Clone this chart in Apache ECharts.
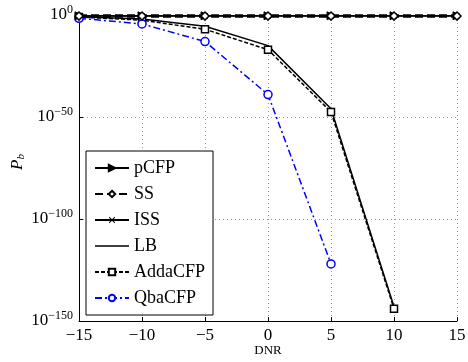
<!DOCTYPE html>
<html>
<head>
<meta charset="utf-8">
<script src="https://cdn.jsdelivr.net/npm/echarts@6/dist/echarts.min.js"></script>
<style>
  html, body { margin: 0; padding: 0; background: #fff; }
  #chart { width: 468px; height: 362px; }
</style>
</head>
<body>
<div id="chart"></div>
<script>
const dnr = [-15, -10, -5, 0, 5, 10, 15];
const pcfp = [0.4, 0.4, 0.4, 0.4, 0.4, 0.4, 0.4];
const ss = [0.3, 0.3, 0.3, 0.3, 0.3, 0.3, 0.3];
const iss = [0.35, 0.35, 0.35, 0.35, 0.35, 0.35, 0.35];
const lb = [1.5e-1, 1e-2, 3e-6, 1e-15, 1e-46, 1e-143];
const addacfp = [1e-1, 3e-3, 1e-7, 1e-17, 3e-48, 1e-144];
const qbacfp = [2.5e-2, 4e-5, 1e-13, 1e-39, 1e-122];
const yTickValues = [1e-150, 1e-100, 1e-50, 1];

const serif = "Liberation Serif";
const pairs = (ys) => ys.map((y, i) => [dnr[i], y]);
const crossPath = "path://M0,1L1,0L5,4L9,0L10,1L6,5L10,9L9,10L5,6L1,10L0,9L4,5Z";

const chart = echarts.init(document.getElementById("chart"));
chart.setOption({
  animation: false,
  backgroundColor: "#fff",
  grid: { left: 79, right: 11, top: 15, bottom: 41, outerBoundsMode: "none", containLabel: false },
  legend: {
    orient: "vertical",
    left: 86,
    top: 151,
    itemGap: 8,
    itemWidth: 34,
    itemHeight: 8,
    padding: [8, 8, 8, 8],
    backgroundColor: "#fff",
    borderColor: "#000",
    borderWidth: 1,
    textStyle: { fontFamily: serif, fontSize: 18, color: "#000" },
    data: ["pCFP", "SS", "ISS", { name: "LB", icon: "path://M0,0H40V2H0Z" }, "AddaCFP", "QbaCFP"],
  },
  xAxis: {
    type: "value",
    min: -15,
    max: 15,
    interval: 5,
    name: "DNR",
    nameLocation: "middle",
    nameGap: 23,
    nameMoveOverlap: false,
    nameTextStyle: { fontFamily: serif, fontSize: 13, color: "#000" },
    axisLine: { onZero: false, lineStyle: { color: "#000", width: 1 } },
    axisTick: { inside: true, length: 4, lineStyle: { color: "#000" } },
    axisLabel: {
      fontFamily: serif,
      fontSize: 17,
      color: "#000",
      margin: 6,
      formatter: (v) => (v < 0 ? "\u2212" + Math.abs(v) : String(v)),
    },
    splitLine: { show: true, lineStyle: { color: "#999", type: [1, 3], width: 1 } },
  },
  yAxis: {
    type: "log",
    logBase: 10,
    min: 1e-150,
    max: 1,
    interval: 50,
    name: "{i|P}{s|b}",
    nameLocation: "middle",
    nameGap: 52,
    nameRotate: 90,
    nameMoveOverlap: false,
    nameTextStyle: {
      fontFamily: serif,
      color: "#000",
      padding: [0, 0, 0, 12],
      rich: {
        i: { fontFamily: serif, fontStyle: "italic", fontSize: 17, color: "#000" },
        s: { fontFamily: serif, fontStyle: "italic", fontSize: 11, color: "#000", verticalAlign: "bottom", padding: [7, 0, 0, 0] },
      },
    },
    axisLine: { show: true, onZero: false, lineStyle: { color: "#000", width: 1 } },
    axisTick: { inside: true, length: 4, lineStyle: { color: "#000" }, customValues: yTickValues },
    axisLabel: {
      margin: 6,
      customValues: yTickValues,
      formatter: (v) => {
        const e = Math.round(Math.log10(v));
        return "{b|10}{s|" + (e < 0 ? "\u2212" + Math.abs(e) : e) + "}";
      },
      rich: {
        b: { fontFamily: serif, fontSize: 17, color: "#000" },
        s: { fontFamily: serif, fontSize: 12, color: "#000", verticalAlign: "top", padding: [0, 0, 10, 0] },
      },
    },
    splitLine: { show: true, lineStyle: { color: "#999", type: [1, 3], width: 1 } },
  },
  series: [
    {
      name: "pCFP",
      type: "line",
      data: pairs(pcfp),
      symbol: "triangle",
      symbolRotate: -90,
      symbolSize: 8,
      lineStyle: { color: "#000", width: 1.5 },
      itemStyle: { color: "#000", borderColor: "#000", borderWidth: 1 },
      z: 5,
    },
    {
      name: "SS",
      type: "line",
      data: pairs(ss),
      symbol: "diamond",
      symbolSize: 8,
      lineStyle: { color: "#000", width: 3.5, type: [8, 4] },
      itemStyle: { color: "#fff", borderColor: "#000", borderWidth: 1.5 },
      z: 6,
    },
    {
      name: "ISS",
      type: "line",
      data: pairs(iss),
      symbol: crossPath,
      symbolSize: 6,
      lineStyle: { color: "#000", width: 1.5 },
      itemStyle: { color: "#000" },
      z: 3,
    },
    {
      name: "LB",
      type: "line",
      data: pairs(lb),
      symbol: "none",
      lineStyle: { color: "#000", width: 1.5 },
      itemStyle: { color: "#000" },
    },
    {
      name: "AddaCFP",
      type: "line",
      data: pairs(addacfp),
      symbol: "rect",
      symbolSize: 7,
      lineStyle: { color: "#000", width: 1.5, type: [4, 2] },
      itemStyle: { color: "#fff", borderColor: "#000", borderWidth: 1.5 },
    },
    {
      name: "QbaCFP",
      type: "line",
      data: pairs(qbacfp),
      symbol: "circle",
      symbolSize: 8,
      lineStyle: { color: "#0000ff", width: 1.5, type: [7, 3, 2, 3] },
      itemStyle: { color: "#fff", borderColor: "#0000ff", borderWidth: 1.5 },
    },
  ],
});
</script>
</body>
</html>
